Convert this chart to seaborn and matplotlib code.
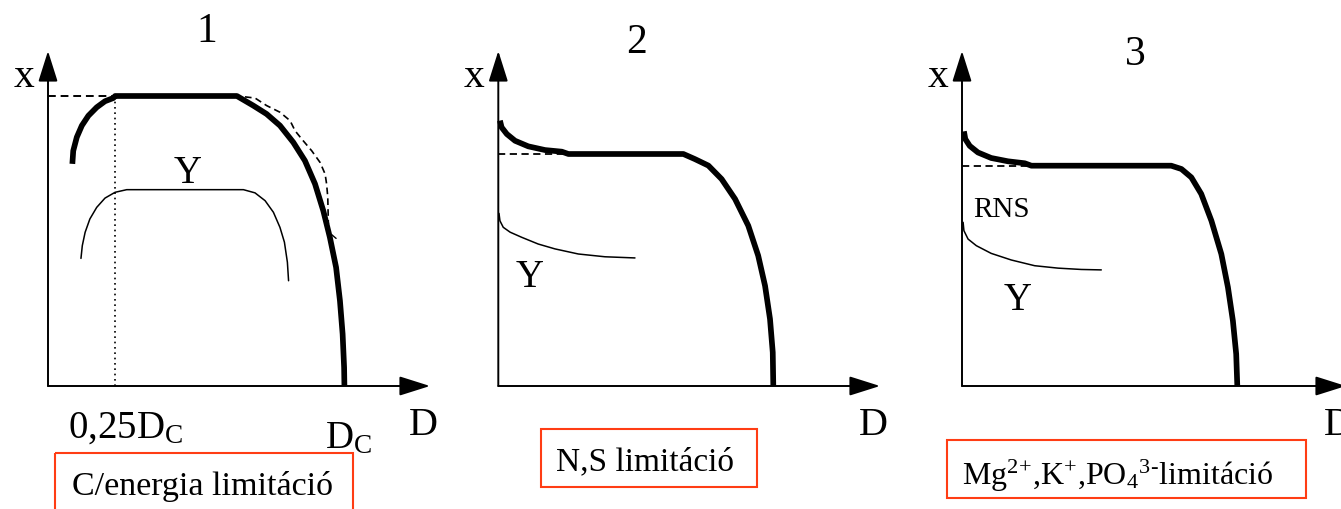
import matplotlib
matplotlib.use("Agg")
import matplotlib.pyplot as plt
from matplotlib.patches import Rectangle
import seaborn as sns

sns.set_style("white")
plt.rcParams["font.family"] = ["Liberation Serif", "DejaVu Serif"]
plt.rcParams["mathtext.fontset"] = "custom"
plt.rcParams["mathtext.rm"] = "Liberation Serif"
plt.rcParams["mathtext.it"] = "Liberation Serif:italic"

# ---------------- data (D in units of Dc, x normalised to plateau) -------------
# Panel 1: C/energy limitation
p1_thick_D = [0.082, 0.085, 0.097, 0.114, 0.136, 0.164, 0.192, 0.220, 0.226, 0.636,
              0.691, 0.736, 0.781, 0.826, 0.865, 0.899, 0.927, 0.949, 0.970, 0.983,
              0.992, 0.997, 0.998]
p1_thick_x = [0.766, 0.811, 0.858, 0.898, 0.932, 0.961, 0.982, 0.993, 1.0, 1.0,
              0.967, 0.938, 0.898, 0.840, 0.777, 0.697, 0.604, 0.513, 0.409, 0.294,
              0.179, 0.064, 0.0]
p1_dash_D = [0.663, 0.697, 0.736, 0.781, 0.815, 0.832, 0.854, 0.888, 0.916, 0.933,
             0.938, 0.942, 0.944]
p1_dash_x = [0.997, 0.993, 0.967, 0.944, 0.915, 0.880, 0.852, 0.811, 0.771, 0.731,
             0.697, 0.651, 0.559]
p1_tick_D = [0.955, 0.970]
p1_tick_x = [0.522, 0.509]
p1_Y_D = [0.111, 0.1155, 0.125, 0.141, 0.164, 0.192, 0.226, 0.265, 0.658, 0.697,
          0.731, 0.759, 0.781, 0.796, 0.806, 0.810]
p1_Y_x = [0.440, 0.484, 0.530, 0.576, 0.616, 0.648, 0.668, 0.677, 0.677, 0.666,
          0.639, 0.599, 0.547, 0.496, 0.427, 0.363]
p1_Dopt = 0.226

# Panel 2: N,S limitation
p2_thick_D = [0.006, 0.012, 0.031, 0.061, 0.109, 0.170, 0.231, 0.255, 0.673, 0.715,
              0.764, 0.812, 0.861, 0.909, 0.945, 0.970, 0.988, 0.998, 1.0]
p2_thick_x = [1.144, 1.115, 1.086, 1.057, 1.033, 1.017, 1.010, 1.0, 1.0, 0.978,
              0.950, 0.892, 0.806, 0.691, 0.562, 0.432, 0.289, 0.145, 0.0]
p2_dash_end = 0.249
p2_Y_D = [0.0025, 0.006, 0.018, 0.043, 0.085, 0.145, 0.206, 0.291, 0.388, 0.497]
p2_Y_x = [0.744, 0.712, 0.684, 0.663, 0.641, 0.612, 0.591, 0.569, 0.557, 0.552]

# Panel 3: Mg2+, K+, PO4 3- limitation
p3_thick_D = [0.007, 0.012, 0.028, 0.058, 0.106, 0.167, 0.228, 0.252, 0.760, 0.797,
              0.833, 0.869, 0.906, 0.942, 0.966, 0.984, 0.996, 1.0]
p3_thick_x = [1.156, 1.121, 1.090, 1.060, 1.035, 1.020, 1.011, 1.0, 1.0, 0.985,
              0.947, 0.872, 0.750, 0.599, 0.448, 0.296, 0.145, 0.0]
p3_dash_end = 0.235
p3_Y_D = [0.004, 0.007, 0.022, 0.052, 0.106, 0.179, 0.264, 0.349, 0.433, 0.506]
p3_Y_x = [0.743, 0.705, 0.667, 0.637, 0.602, 0.572, 0.546, 0.535, 0.529, 0.527]

panel_numbers = ["1", "2", "3"]
box_labels = ["C/energia limitáció", "N,S limitáció",
              "Mg$^{2}$$^{+}$,K$^{+}$,PO$_{4}$$^{3}$$^{\\text{-}}$limitáció"]

# ---------------- layout ------------------------------------------------------
W, H = 1341, 510
fig = plt.figure(figsize=(W / 100, H / 100), dpi=100)

# overlay axes in pixel coordinates for annotations
ov = fig.add_axes([0, 0, 1, 1])
ov.set_xlim(0, W)
ov.set_ylim(H, 0)
ov.axis("off")


def panel_axes(ox, oy, sx, sy):
    ax = fig.add_axes([0, 0, 1, 1])
    ax.patch.set_alpha(0)
    ax.set_xlim(-ox / sx, (W - ox) / sx)
    ax.set_ylim(-(H - oy) / sy, oy / sy)
    ax.axis("off")
    return ax


def axes_arrows(ax, dmax, xmax):
    ap = dict(arrowstyle="-|>,head_length=1.9,head_width=0.6", mutation_scale=10,
              color="black", lw=1.4, shrinkA=0, shrinkB=0)
    ax.annotate("", xy=(dmax, 0), xytext=(0, 0), arrowprops=ap, annotation_clip=False)
    ax.annotate("", xy=(0, xmax), xytext=(0, 0), arrowprops=ap, annotation_clip=False)


def line(ax, D, X, lw, **kw):
    sns.lineplot(x=D, y=X, ax=ax, sort=False, estimator=None, color="black",
                 linewidth=lw, legend=False, **kw)


THICK, THIN = 4.1, 1.1
dash_style = (0, (4, 2.5))
thick_kw = dict(solid_capstyle="butt", solid_joinstyle="round")
thin_kw = dict(solid_joinstyle="round")

# Panel 1
a1 = panel_axes(48, 387, 297, 290)
axes_arrows(a1, (430 - 48) / 297, (387 - 52) / 290)
line(a1, p1_thick_D, p1_thick_x, THICK, **thick_kw)
line(a1, p1_dash_D, p1_dash_x, 1.2, linestyle=dash_style)
line(a1, p1_tick_D, p1_tick_x, 1.0)
line(a1, [0, p1_Dopt], [1.0, 1.0], 1.4, linestyle=dash_style)
line(a1, [p1_Dopt, p1_Dopt], [0, 1.0], 1.2, linestyle=(0, (1, 2.2)))
line(a1, p1_Y_D, p1_Y_x, THIN, **thin_kw)

# Panel 2
a2 = panel_axes(498.3, 387, 275, 232)
axes_arrows(a2, (880 - 498.3) / 275, (387 - 52) / 232)
line(a2, p2_thick_D, p2_thick_x, THICK, **thick_kw)
line(a2, [0, p2_dash_end], [1.0, 1.0], 1.3, linestyle=dash_style)
line(a2, p2_Y_D, p2_Y_x, THIN, **thin_kw)

# Panel 3
a3 = panel_axes(962, 387, 275.3, 220.3)
axes_arrows(a3, (1346 - 962) / 275.3, (387 - 52) / 220.3)
line(a3, p3_thick_D, p3_thick_x, THICK, **thick_kw)
line(a3, [0, p3_dash_end], [1.0, 1.0], 1.3, linestyle=dash_style)
line(a3, p3_Y_D, p3_Y_x, THIN, **thin_kw)

# ---------------- texts -------------------------------------------------------
T = dict(color="black", va="baseline")
for (px, py), s in zip([(207, 42), (637, 53), (1135, 65)], panel_numbers):
    ov.text(px, py, s, fontsize=30, ha="center", **T)
for px in (24, 474, 938):
    ov.text(px, 87, "x", fontsize=30, ha="center", **T)
for px in (423, 873, 1338):
    ov.text(px, 435, "D", fontsize=29, ha="center", **T)
for (px, py) in [(188, 183), (530, 287), (1018, 310)]:
    ov.text(px, py, "Y", fontsize=28, ha="center", **T)
ov.text(973, 217, "RNS", fontsize=21, ha="left", **T)
ov.text(68, 438, "0,25D$_{\\mathrm{C}}$", fontsize=28, ha="left", **T)
ov.text(325, 448, "D$_{\\mathrm{C}}$", fontsize=28, ha="left", **T)

red = "#ff3d14"
boxes = [(55, 454, 353, 530), (540.7, 430, 756.7, 487.7), (946.7, 440.7, 1305.7, 499)]
text_pos = [(72, 495, 24.5), (556, 470, 24), (962, 485, 23)]
for (l, t, r, b), (tx, ty, fs), s in zip(boxes, text_pos, box_labels):
    ov.add_patch(Rectangle((l, t), r - l, b - t, fill=False, edgecolor=red, lw=1.5))
    ov.text(tx, ty, s, fontsize=fs, ha="left", **T)

fig.savefig("out.png", dpi=100)
